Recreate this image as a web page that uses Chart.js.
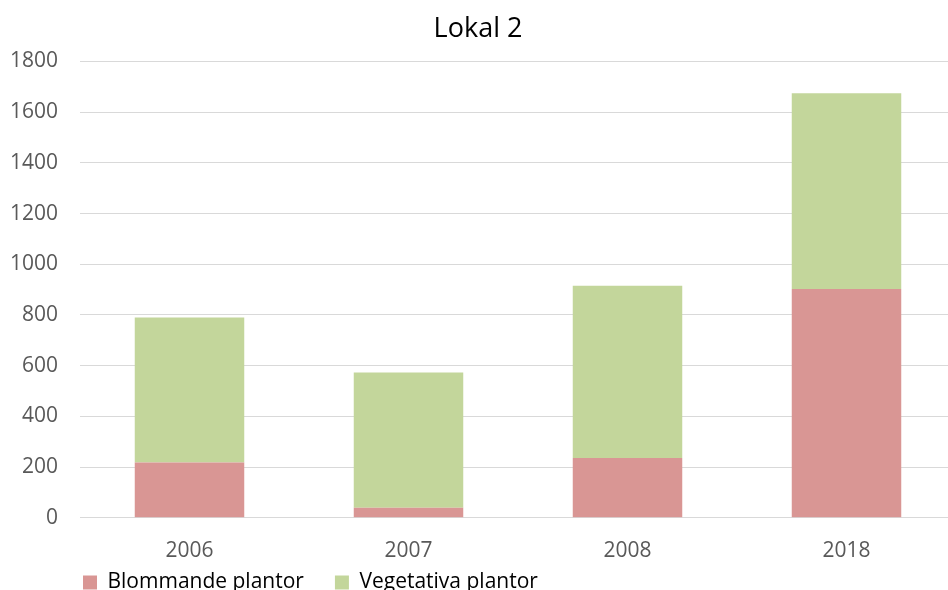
<!DOCTYPE html>
<html>
<head>
<meta charset="utf-8">
<title>Lokal 2</title>
<script src="https://cdn.jsdelivr.net/npm/chart.js@4/dist/chart.umd.min.js"></script>
<style>
    html, body { margin: 0; padding: 0; background: #fff; overflow: hidden; }
    #wrap { position: relative; width: 956px; height: 647px; }
</style>
</head>
<body>
<div id="wrap"><canvas id="lokalChart"></canvas></div>
<script>
// data
const years = ['2006', '2007', '2008', '2018'];
const blommande = [218, 40, 236, 902];
const vegetativa = [572, 533, 679, 772];
const yMin = 0;
const yMax = 1800;
const yStep = 200;

// Excel puts the legend down in the left corner and centres the title on the
// whole picture, nudge Chart.js' boxes to the same places
const boxOffset = {
    id: 'boxOffset',
    afterLayout(chart, args, opts) {
        const move = (box, dx, dy) => {
            if (!box) return;
            box.left += dx;
            box.right += dx;
            box.top += dy;
            box.bottom += dy;
        };
        move(chart.legend, opts.legendX, opts.legendY);
        move(chart.titleBlock, opts.titleX, 0);
    }
};

const ctx = document.getElementById('lokalChart').getContext('2d');
const chart = new Chart(ctx, {
    type: 'bar',
    data: {
        labels: years,
        datasets: [
            {
                label: 'Blommande plantor',
                backgroundColor: '#D99694',
                data: blommande
            },
            {
                label: 'Vegetativa plantor',
                backgroundColor: '#C3D69B',
                data: vegetativa
            }
        ]
    },
    options: {
        responsive: true,
        maintainAspectRatio: false,
        animation: false,
        layout: {
            padding: { left: 10, right: 0, top: 0, bottom: 0 }
        },
        datasets: {
            bar: {
                categoryPercentage: 1,
                barPercentage: 0.5,
                borderWidth: 0
            }
        },
        scales: {
            x: {
                stacked: true,
                grid: { display: false, drawTicks: false },
                border: { display: false },
                ticks: {
                    color: '#595959',
                    padding: 21,
                    font: { family: 'Open Sans', size: 21 }
                }
            },
            y: {
                stacked: true,
                min: yMin,
                max: yMax,
                grid: { color: '#D9D9D9', lineWidth: 1, drawTicks: false },
                border: { display: false },
                afterFit: axis => { axis.width = 70; },
                ticks: {
                    stepSize: yStep,
                    color: '#595959',
                    padding: 22,
                    font: { family: 'Open Sans', size: 21 },
                    callback: value => String(value)
                }
            }
        },
        plugins: {
            title: {
                display: true,
                text: 'Lokal 2',
                color: '#000',
                font: { family: 'Open Sans', size: 27, weight: 'normal' },
                padding: { top: 13, bottom: 16 }
            },
            legend: {
                position: 'bottom',
                align: 'start',
                labels: {
                    color: '#000',
                    boxWidth: 14,
                    boxHeight: 14,
                    padding: 31,
                    font: { family: 'Open Sans', size: 21 }
                }
            },
            tooltip: { enabled: false },
            boxOffset: { legendX: 42, legendY: -44, titleX: -5 }
        }
    },
    plugins: [boxOffset]
});
</script>
</body>
</html>
